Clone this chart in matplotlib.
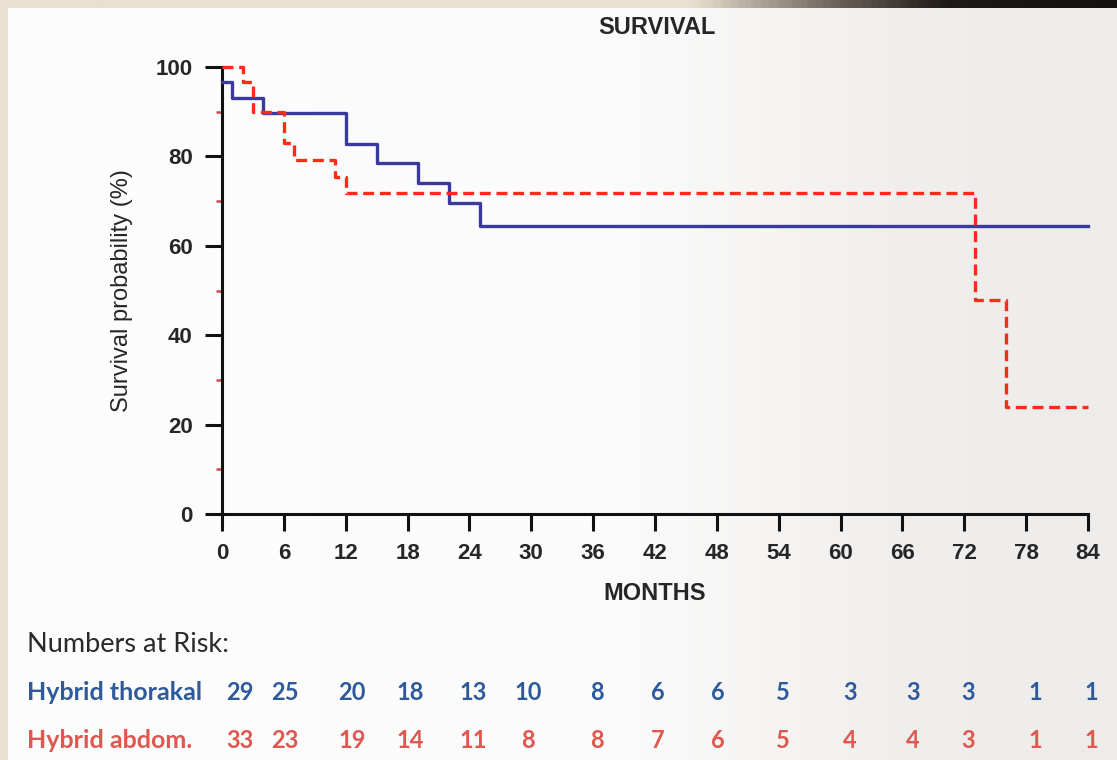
import numpy as np
import matplotlib
matplotlib.use("Agg")
import matplotlib.pyplot as plt
from matplotlib.transforms import blended_transform_factory
from matplotlib.colors import LinearSegmentedColormap

# Kaplan-Meier steps (months, survival %)
thor_t = [0, 1, 4, 12, 15, 19, 22, 25, 84]
thor_s = [96.6, 93.1, 89.7, 82.8, 78.6, 74.1, 69.5, 64.4, 64.4]
abd_t = [0, 2, 3, 6, 7, 11, 12, 73, 76, 84]
abd_s = [100, 96.6, 89.9, 83.0, 79.2, 75.4, 71.8, 47.9, 23.9, 23.9]

month_ticks = list(range(0, 85, 6))
risk_thor = [29, 25, 20, 18, 13, 10, 8, 6, 6, 5, 3, 3, 3, 1, 1]
risk_abd = [33, 23, 19, 14, 11, 8, 8, 7, 6, 5, 4, 4, 3, 1, 1]
# where the risk numbers sit (months), slightly off the ticks in the original
risk_x = [1.7, 6.1, 12.6, 18.3, 24.4, 29.7, 36.4, 42.3, 48.1, 54.4, 60.9, 67.0, 72.4, 78.9, 84.3]

blue = "#3a3a9e"
red = "#ff2a1a"
txt = "#262626"
plt.rcParams["font.family"] = ["Liberation Sans", "DejaVu Sans"]

W, H = 1117, 760
fig = plt.figure(figsize=(W / 100, H / 100), dpi=100, facecolor="#e9e1d0")

# slide background: white fading to light grey on the right
bg = fig.add_axes([8 / W, 0, 1 - 8 / W, 1 - 8 / H], zorder=-10)
grad = np.linspace(0, 1, 400)[None, :]
bg_cmap = LinearSegmentedColormap.from_list(
    "bg", [(0, "#fdfdfd"), (0.55, "#fbfbfb"), (0.8, "#f1efed"), (1, "#eeecea")])
bg.imshow(grad, aspect="auto", cmap=bg_cmap, extent=[0, 1, 0, 1])
bg.axis("off")

top = fig.add_axes([0, 1 - 8 / H, 1, 8 / H], zorder=-9)
top_cmap = LinearSegmentedColormap.from_list(
    "top", [(0, "#e9e1d0"), (0.62, "#e9e1d0"), (0.75, "#6b625a"), (0.85, "#1e1a18"), (1, "#141110")])
top.imshow(grad, aspect="auto", cmap=top_cmap, extent=[0, 1, 0, 1])
top.axis("off")

ax = fig.add_axes([222 / W, 1 - 514 / H, 866 / W, 447 / H])
ax.set_facecolor("none")

ax.step(thor_t, thor_s, where="post", color=blue, lw=2.4, clip_on=False, zorder=3)
ax.step(abd_t, abd_s, where="post", color=red, lw=2.4, ls=(0, (3.3, 1.7)), clip_on=False, zorder=4)

ax.set_xlim(0, 84)
ax.set_ylim(0, 100)
for s in ["top", "right"]:
    ax.spines[s].set_visible(False)
for s in ["left", "bottom"]:
    ax.spines[s].set_linewidth(2.2)
    ax.spines[s].set_color("#111111")
ax.spines["left"].set_bounds(0, 100)
ax.spines["bottom"].set_bounds(0, 84)

ax.set_xticks(month_ticks)
ax.set_yticks(range(0, 101, 20))
ax.set_yticks(range(10, 100, 20), minor=True)
ax.tick_params(axis="both", which="major", length=12, width=2.2, color="#111111",
               labelsize=16, labelcolor=txt, pad=9)
ax.tick_params(axis="y", which="minor", length=4, width=1.8, color="#d04a4a", pad=0)
for lab in ax.get_xticklabels() + ax.get_yticklabels():
    lab.set_fontweight("bold")

ax.set_xlabel("MONTHS", fontsize=17, color=txt, labelpad=13, fontweight="bold")
ax.set_ylabel("Survival probability (%)", fontsize=17, color=txt, labelpad=16)
fig.text(657 / W, 1 - 27 / H, "SURVIVAL", ha="center", va="center", fontsize=17,
         color=txt, fontweight="bold")

# numbers at risk table
risk_font = "Lato"
fig.text(27 / W, 1 - 645 / H, "Numbers at Risk:", ha="left", va="center",
         fontsize=19.5, color="#2a2a2a", family=risk_font)
fig.text(27 / W, 1 - 692 / H, "Hybrid thorakal", ha="left", va="center",
         fontsize=18, color="#2e5a9c", family=risk_font, fontweight="bold")
fig.text(27 / W, 1 - 741 / H, "Hybrid abdom.", ha="left", va="center",
         fontsize=18, color="#e0574f", family=risk_font, fontweight="bold")

tr = blended_transform_factory(ax.transData, fig.transFigure)
for x, a, b in zip(risk_x, risk_thor, risk_abd):
    fig.text(x, 1 - 692 / H, str(a), transform=tr, ha="center", va="center",
             fontsize=17, color="#2e5a9c", family=risk_font, fontweight="bold")
    fig.text(x, 1 - 741 / H, str(b), transform=tr, ha="center", va="center",
             fontsize=17, color="#e0574f", family=risk_font, fontweight="bold")

fig.savefig("out.png", dpi=100, facecolor=fig.get_facecolor())
